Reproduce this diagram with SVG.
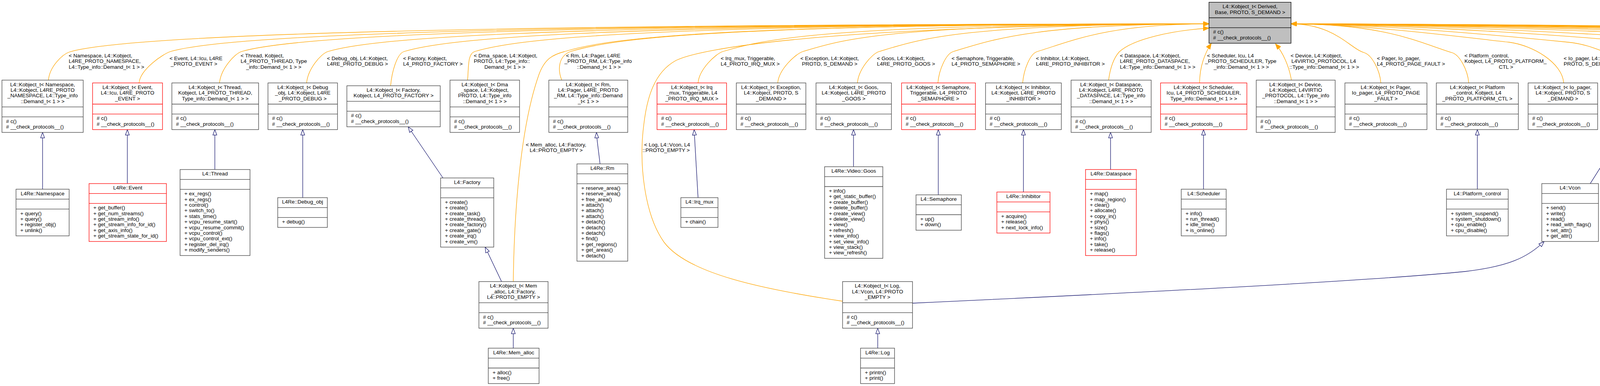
<svg xmlns="http://www.w3.org/2000/svg" width="6815" height="988" viewBox="0 0 6815 988">
<defs>
<style>
text{font-family:"Liberation Sans",Arial,Helvetica,sans-serif;font-size:13.5px;fill:#000}
.c{text-anchor:middle}
.b{fill:#fff;stroke:#404040;stroke-width:1.3}
.r{fill:#fff;stroke:#ff0000;stroke-width:1.3}
.g{fill:#bfbfbf;stroke:#000;stroke-width:1.3}
.o{fill:none;stroke:#ffa500;stroke-width:1.3;marker-end:url(#ao)}
.n{fill:none;stroke:#191970;stroke-width:1.3;marker-end:url(#an)}
</style>
<marker id="ao" viewBox="0 0 15 12" refX="15" refY="6" markerWidth="15" markerHeight="12" markerUnits="userSpaceOnUse" orient="auto"><path d="M0,0L15,6L0,12z" fill="#ffa500" stroke="#ffa500" stroke-width="1"/></marker>
<marker id="an" viewBox="-1 -1 16 12" refX="14" refY="5" markerWidth="16" markerHeight="12" markerUnits="userSpaceOnUse" orient="auto"><path d="M0,0L14,5L0,10z" fill="#fff" stroke="#191970" stroke-width="1.3"/></marker>
</defs>
<rect x="0" y="0" width="6815" height="988" fill="#fff"/>

<g id="connectors">
<g id="template-edges">
<path class="o" d="M124,205.1 C127,170 160,139 178,133 C278,103 761,62 3095,61"/>
<path class="o" d="M356,212.3 C359,177 418,138 436,132 C536,102 968,62 3095,61"/>
<path class="o" d="M562,212.3 C565,177 600,138 618,132 C718,102 1113,62 3095,61"/>
<path class="o" d="M785,212.3 C788,177 821,138 839,132 C939,102 1290,62 3095,61"/>
<path class="o" d="M1000,219.5 C1003,184 1016,138 1034,132 C1134,102 1446,62 3095,61"/>
<path class="o" d="M1197,205.1 C1200,170 1197,138 1215,132 C1315,102 1591,62 3095,61"/>
<path class="o" d="M1438,205.1 C1428,180 1428,145 1460,132 C1560,102 1787,62 3095,61"/>
<path class="o" d="M1787,212.3 C1790,177 1832,138 1850,132 C1950,102 2099,62 3095,61"/>
<path class="o" d="M1991,212.3 C1994,177 2037,138 2055,132 C2155,102 2263,62 3095,61"/>
<path class="o" d="M2195,212.3 C2198,177 2232,138 2250,132 C2350,102 2450,62 3095,61"/>
<path class="o" d="M2401,212.3 C2404,177 2422,138 2440,132 C2540,102 2640,62 3095,61"/>
<path class="o" d="M2618,212.3 C2621,177 2637,138 2655,132 C2743,105.6 2831,62 3095,61"/>
<path class="o" d="M2838,205.1 C2842,175 2850,150 2865,133 C2900,100 3000,78 3095,72"/>
<path class="o" d="M3071,212.3 C3071,170 3085,135 3101,111"/>
<path class="o" d="M3306,205.1 C3300,170 3285,135 3265,112"/>
<path class="o" d="M1314,720.7 C1316,560 1330,330 1380,190 C1395,150 1415,140 1445,132 C1545,102 1775,62 3095,61"/>
<path class="o" d="M2157,771 C1950,740 1760,700 1700,620 C1650,550 1635,420 1648,320 C1656,250 1675,185 1730,155 C1790,125 2100,66 3095,61"/>
<path class="o" d="M3535,212.3 C3532,177 3511,141 3493,135 C3455,124 3418,62 3305,61"/>
<path class="o" d="M3760,212.3 C3757,177 3736,141 3718,135 C3635,110 3553,62 3305,61"/>
<path class="o" d="M4003,212.3 C4000,162.3 3926,116 3863,108 C3793,101 3500,62 3305,61"/>
<path class="o" d="M4199,219.5 C4196,169.5 4097,116 4014,108 C3921.5,98.75 3553,62 3305,61"/>
<path class="o" d="M4407,219.5 C4404,169.5 4292,116 4198,108 C4093.5,97.5 3618,62 3305,61"/>
<path class="o" d="M4612,212.3 C4609,162.3 4485.5,116 4382,108 C4267,96.5 3682,62 3305,61"/>
<path class="o" d="M4838,219.5 C4835,169.5 4722.5,116 4628,108 C4523,97.5 3768,62 3305,61"/>
<path class="o" d="M5067,219.5 C5064,169.5 4957,116 4867,108 C4767,98 3852,62 3305,61"/>
<path class="o" d="M5298,219.5 C5295,169.5 5188,116 5098,108 C4998,98 3933,62 3305,61"/>
<path class="o" d="M5533,212.3 C5530,162.3 5428.5,116 5343,108 C5248,98.5 4018,62 3305,61"/>
<path class="o" d="M5749,212.3 C5746,162.3 5644.5,116 5559,108 C5464,98.5 4094,62 3305,61"/>
<path class="o" d="M5980,205.1 C5977,155.1 5875.5,116 5790,108 C5695,98.5 4175,62 3305,61"/>
<path class="o" d="M6228,212.3 C6225,162.3 6129,116 6048,108 C5958,99 4265,62 3305,61"/>
<path class="o" d="M6446,212.3 C6443,162.3 6352.5,116 6276,108 C6191,99.5 4345,62 3305,61"/>
<path class="o" d="M6672,212.3 C6669,162.3 6584,116 6512,108 C6432,100 4427,62 3305,61"/>
</g>
<g id="inheritance-edges">
<path class="n" d="M109,484.3V338.9"/>
<path class="n" d="M326,469.9V331.7"/>
<path class="n" d="M550,433.9V331.7"/>
<path class="n" d="M775,505.9V331.7"/>
<path class="n" d="M1134,455.5L1045,324.5"/>
<path class="n" d="M1536,419.5C1533,390 1528,360 1527,338.9"/>
<path class="n" d="M1787,505.9L1777,331.7"/>
<path class="n" d="M2185,426.7V331.7"/>
<path class="n" d="M2402,498.7V331.7"/>
<path class="n" d="M2620,491.5V331.7"/>
<path class="n" d="M2843,433.9V338.9"/>
<path class="n" d="M3081,484.3V331.7"/>
<path class="n" d="M3782,484.3V331.7"/>
<path class="n" d="M4071,469.9L4163,324.5"/>
<path class="n" d="M1284,720.7L1242,632.5"/>
<path class="n" d="M1314,891.2V840.1"/>
<path class="n" d="M2247,891.2V840.1"/>
<path class="n" d="M2336,776C2900,750 3500,720 3750,695C3860,682 3910,660 3953,618.1"/>
</g>
<g id="edge-labels">
<text><tspan x="176" y="146.7">&lt; Namespace, L4::Kobject,</tspan><tspan x="176" y="161.1">L4RE_PROTO_NAMESPACE,</tspan><tspan x="176" y="175.5">L4::Type_info::Demand_t&lt; 1 &gt; &gt;</tspan></text>
<text><tspan x="434" y="153.7">&lt; Event, L4::Icu, L4RE</tspan><tspan x="437" y="168.1">_PROTO_EVENT &gt;</tspan></text>
<text><tspan x="616" y="146.7">&lt; Thread, Kobject,</tspan><tspan x="616" y="161.1">L4_PROTO_THREAD, Type</tspan><tspan x="630" y="175.5">_info::Demand_t&lt; 1 &gt; &gt;</tspan></text>
<text><tspan x="837" y="153.7">&lt; Debug_obj, L4::Kobject,</tspan><tspan x="837" y="168.1">L4RE_PROTO_DEBUG &gt;</tspan></text>
<text><tspan x="1032" y="153.7">&lt; Factory, Kobject,</tspan><tspan x="1032" y="168.1">L4_PROTO_FACTORY &gt;</tspan></text>
<text><tspan x="1213" y="146.7">&lt; Dma_space, L4::Kobject,</tspan><tspan x="1213" y="161.1">PROTO, L4::Type_info::</tspan><tspan x="1240" y="175.5">Demand_t&lt; 1 &gt; &gt;</tspan></text>
<text><tspan x="1449" y="146.7">&lt; Rm, L4::Pager, L4RE</tspan><tspan x="1445" y="161.1">_PROTO_RM, L4::Type_info</tspan><tspan x="1477" y="175.5">::Demand_t&lt; 1 &gt; &gt;</tspan></text>
<text><tspan x="1346" y="374.7">&lt; Mem_alloc, L4::Factory,</tspan><tspan x="1356" y="389.1">L4::PROTO_EMPTY &gt;</tspan></text>
<text><tspan x="1649" y="374.7">&lt; Log, L4::Vcon, L4</tspan><tspan x="1645" y="389.1">::PROTO_EMPTY &gt;</tspan></text>
<text><tspan x="1845" y="153.7">&lt; Irq_mux, Triggerable,</tspan><tspan x="1845" y="168.1">L4_PROTO_IRQ_MUX &gt;</tspan></text>
<text><tspan x="2049" y="153.7">&lt; Exception, L4::Kobject,</tspan><tspan x="2053" y="168.1">PROTO, S_DEMAND &gt;</tspan></text>
<text><tspan x="2245" y="153.7">&lt; Goos, L4::Kobject,</tspan><tspan x="2245" y="168.1">L4RE_PROTO_GOOS &gt;</tspan></text>
<text><tspan x="2436" y="153.7">&lt; Semaphore, Triggerable,</tspan><tspan x="2436" y="168.1">L4_PROTO_SEMAPHORE &gt;</tspan></text>
<text><tspan x="2652" y="153.7">&lt; Inhibitor, L4::Kobject,</tspan><tspan x="2652" y="168.1">L4RE_PROTO_INHIBITOR &gt;</tspan></text>
<text><tspan x="2867" y="146.7">&lt; Dataspace, L4::Kobject,</tspan><tspan x="2867" y="161.1">L4RE_PROTO_DATASPACE,</tspan><tspan x="2867" y="175.5">L4::Type_info::Demand_t&lt; 1 &gt; &gt;</tspan></text>
<text><tspan x="3090" y="146.7">&lt; Scheduler, Icu, L4</tspan><tspan x="3085" y="161.1">_PROTO_SCHEDULER, Type</tspan><tspan x="3107" y="175.5">_info::Demand_t&lt; 1 &gt; &gt;</tspan></text>
<text><tspan x="3304" y="146.7">&lt; Device, L4::Kobject,</tspan><tspan x="3306" y="161.1">L4VIRTIO_PROTOCOL, L4</tspan><tspan x="3301" y="175.5">::Type_info::Demand_t&lt; 1 &gt; &gt;</tspan></text>
<text><tspan x="3525" y="153.7">&lt; Pager, Io_pager,</tspan><tspan x="3525" y="168.1">L4_PROTO_PAGE_FAULT &gt;</tspan></text>
<text><tspan x="3749" y="146.7">&lt; Platform_control,</tspan><tspan x="3749" y="161.1">Kobject, L4_PROTO_PLATFORM_</tspan><tspan x="3837" y="175.5">CTL &gt;</tspan></text>
<text><tspan x="4003" y="153.7">&lt; Io_pager, L4::Kobject,</tspan><tspan x="4003" y="168.1">PROTO, S_DEMAND &gt;</tspan></text>
<text><tspan x="4192" y="153.7">&lt; Vcon, Icu, L4_PROTO</tspan><tspan x="4240" y="168.1">_LOG &gt;</tspan></text>
<text><tspan x="4392" y="153.7">&lt; Meta, Kobject, L4</tspan><tspan x="4392" y="168.1">_PROTO_META &gt;</tspan></text>
<text><tspan x="4584" y="146.7">&lt; Icu, Irq_eoi, L4</tspan><tspan x="4580" y="161.1">_PROTO_IRQ, Type_info</tspan><tspan x="4602" y="175.5">::Demand_t&lt; 1 &gt; &gt;</tspan></text>
<text><tspan x="4809" y="160.5">&lt; Vm, Task, L4_PROTO_VM &gt;</tspan></text>
<text><tspan x="5053" y="153.7">&lt; Triggerable, Irq</tspan><tspan x="5049" y="168.1">_eoi, L4_PROTO_IRQ &gt;</tspan></text>
<text><tspan x="5269" y="153.7">&lt; Debugger, Kobject,</tspan><tspan x="5269" y="168.1">L4_PROTO_DEBUGGER &gt;</tspan></text>
<text><tspan x="5509" y="153.7">&lt; Derived, L4::Kobject,</tspan><tspan x="5509" y="168.1">PROTO, S_DEMAND &gt;</tspan></text>
<text><tspan x="5726" y="146.7">&lt; Task, Kobject, L4</tspan><tspan x="5721" y="161.1">_PROTO_TASK, Type_info</tspan><tspan x="5750" y="175.5">::Demand_t&lt; 2 &gt; &gt;</tspan></text>
<text><tspan x="5964" y="146.7">&lt; Ipc_gate, Kobject,</tspan><tspan x="5964" y="161.1">L4_PROTO_KOBJECT, Type</tspan><tspan x="5980" y="175.5">_info::Demand_t&lt; 1 &gt; &gt;</tspan></text>
<text><tspan x="6209" y="153.7">&lt; Parent, L4::Kobject,</tspan><tspan x="6209" y="168.1">L4RE_PROTO_PARENT &gt;</tspan></text>
<text><tspan x="6431" y="153.7">&lt; Irq, Triggerable,</tspan><tspan x="6431" y="168.1">L4_PROTO_IRQ_SENDER &gt;</tspan></text>
<text><tspan x="6663" y="153.7">&lt; Irq_eoi, L4::Kobject,</tspan><tspan x="6663" y="168.1">PROTO, S_DEMAND &gt;</tspan></text>
</g>
</g>

<g id="kobject_t_base"><rect class="g" x="3095" y="5.7" width="210" height="105"/><path class="g" d="M3095,45.5h210M3095,70.9h210"/><text class="c"><tspan x="3200" y="21.2">L4::Kobject_t&lt; Derived,</tspan><tspan x="3200" y="35.6">Base, PROTO, S_DEMAND &gt;</tspan></text><text><tspan x="3105.5" y="86.4"># c()</tspan><tspan x="3105.5" y="100.8"># __check_protocols__()</tspan></text></g>

<g id="kt_namespace"><rect class="b" x="5" y="205.1" width="208" height="133.8"/><path class="b" d="M5,273.7h208M5,299.1h208"/><text class="c"><tspan x="109" y="220.6">L4::Kobject_t&lt; Namespace,</tspan><tspan x="109" y="235">L4::Kobject, L4RE_PROTO</tspan><tspan x="109" y="249.4">_NAMESPACE, L4::Type_info</tspan><tspan x="109" y="263.8">::Demand_t&lt; 1 &gt; &gt;</tspan></text><text><tspan x="15.5" y="314.6"># c()</tspan><tspan x="15.5" y="329"># __check_protocols__()</tspan></text></g>
<g id="kt_event"><rect class="r" x="237" y="212.3" width="179" height="119.4"/><path class="r" d="M237,266.5h179M237,291.9h179"/><text class="c"><tspan x="326.5" y="227.8">L4::Kobject_t&lt; Event,</tspan><tspan x="326.5" y="242.2">L4::Icu, L4RE_PROTO</tspan><tspan x="326.5" y="256.6">_EVENT &gt;</tspan></text><text><tspan x="247.5" y="307.4"># c()</tspan><tspan x="247.5" y="321.8"># __check_protocols__()</tspan></text></g>
<g id="kt_thread"><rect class="b" x="440" y="212.3" width="222" height="119.4"/><path class="b" d="M440,266.5h222M440,291.9h222"/><text class="c"><tspan x="551" y="227.8">L4::Kobject_t&lt; Thread,</tspan><tspan x="551" y="242.2">Kobject, L4_PROTO_THREAD,</tspan><tspan x="551" y="256.6">Type_info::Demand_t&lt; 1 &gt; &gt;</tspan></text><text><tspan x="450.5" y="307.4"># c()</tspan><tspan x="450.5" y="321.8"># __check_protocols__()</tspan></text></g>
<g id="kt_debug_obj"><rect class="b" x="686" y="212.3" width="178" height="119.4"/><path class="b" d="M686,266.5h178M686,291.9h178"/><text class="c"><tspan x="775" y="227.8">L4::Kobject_t&lt; Debug</tspan><tspan x="775" y="242.2">_obj, L4::Kobject, L4RE</tspan><tspan x="775" y="256.6">_PROTO_DEBUG &gt;</tspan></text><text><tspan x="696.5" y="307.4"># c()</tspan><tspan x="696.5" y="321.8"># __check_protocols__()</tspan></text></g>
<g id="kt_factory"><rect class="b" x="888" y="219.5" width="239" height="105"/><path class="b" d="M888,259.3h239M888,284.7h239"/><text class="c"><tspan x="1007.5" y="235">L4::Kobject_t&lt; Factory,</tspan><tspan x="1007.5" y="249.4">Kobject, L4_PROTO_FACTORY &gt;</tspan></text><text><tspan x="898.5" y="300.2"># c()</tspan><tspan x="898.5" y="314.6"># __check_protocols__()</tspan></text></g>
<g id="kt_dma_space"><rect class="b" x="1152" y="205.1" width="178" height="133.8"/><path class="b" d="M1152,273.7h178M1152,299.1h178"/><text class="c"><tspan x="1241" y="220.6">L4::Kobject_t&lt; Dma</tspan><tspan x="1241" y="235">_space, L4::Kobject,</tspan><tspan x="1241" y="249.4">PROTO, L4::Type_info</tspan><tspan x="1241" y="263.8">::Demand_t&lt; 1 &gt; &gt;</tspan></text><text><tspan x="1162.5" y="314.6"># c()</tspan><tspan x="1162.5" y="329"># __check_protocols__()</tspan></text></g>
<g id="kt_rm"><rect class="b" x="1405" y="205.1" width="202" height="133.8"/><path class="b" d="M1405,273.7h202M1405,299.1h202"/><text class="c"><tspan x="1506" y="220.6">L4::Kobject_t&lt; Rm,</tspan><tspan x="1506" y="235">L4::Pager, L4RE_PROTO</tspan><tspan x="1506" y="249.4">_RM, L4::Type_info::Demand</tspan><tspan x="1506" y="263.8">_t&lt; 1 &gt; &gt;</tspan></text><text><tspan x="1415.5" y="314.6"># c()</tspan><tspan x="1415.5" y="329"># __check_protocols__()</tspan></text></g>
<g id="kt_irq_mux"><rect class="r" x="1682" y="212.3" width="178" height="119.4"/><path class="r" d="M1682,266.5h178M1682,291.9h178"/><text class="c"><tspan x="1771" y="227.8">L4::Kobject_t&lt; Irq</tspan><tspan x="1771" y="242.2">_mux, Triggerable, L4</tspan><tspan x="1771" y="256.6">_PROTO_IRQ_MUX &gt;</tspan></text><text><tspan x="1692.5" y="307.4"># c()</tspan><tspan x="1692.5" y="321.8"># __check_protocols__()</tspan></text></g>
<g id="kt_exception"><rect class="b" x="1885" y="212.3" width="178" height="119.4"/><path class="b" d="M1885,266.5h178M1885,291.9h178"/><text class="c"><tspan x="1974" y="227.8">L4::Kobject_t&lt; Exception,</tspan><tspan x="1974" y="242.2">L4::Kobject, PROTO, S</tspan><tspan x="1974" y="256.6">_DEMAND &gt;</tspan></text><text><tspan x="1895.5" y="307.4"># c()</tspan><tspan x="1895.5" y="321.8"># __check_protocols__()</tspan></text></g>
<g id="kt_goos"><rect class="b" x="2089" y="212.3" width="193" height="119.4"/><path class="b" d="M2089,266.5h193M2089,291.9h193"/><text class="c"><tspan x="2185.5" y="227.8">L4::Kobject_t&lt; Goos,</tspan><tspan x="2185.5" y="242.2">L4::Kobject, L4RE_PROTO</tspan><tspan x="2185.5" y="256.6">_GOOS &gt;</tspan></text><text><tspan x="2099.5" y="307.4"># c()</tspan><tspan x="2099.5" y="321.8"># __check_protocols__()</tspan></text></g>
<g id="kt_semaphore"><rect class="r" x="2308" y="212.3" width="189" height="119.4"/><path class="r" d="M2308,266.5h189M2308,291.9h189"/><text class="c"><tspan x="2402.5" y="227.8">L4::Kobject_t&lt; Semaphore,</tspan><tspan x="2402.5" y="242.2">Triggerable, L4_PROTO</tspan><tspan x="2402.5" y="256.6">_SEMAPHORE &gt;</tspan></text><text><tspan x="2318.5" y="307.4"># c()</tspan><tspan x="2318.5" y="321.8"># __check_protocols__()</tspan></text></g>
<g id="kt_inhibitor"><rect class="b" x="2523" y="212.3" width="194" height="119.4"/><path class="b" d="M2523,266.5h194M2523,291.9h194"/><text class="c"><tspan x="2620" y="227.8">L4::Kobject_t&lt; Inhibitor,</tspan><tspan x="2620" y="242.2">L4::Kobject, L4RE_PROTO</tspan><tspan x="2620" y="256.6">_INHIBITOR &gt;</tspan></text><text><tspan x="2533.5" y="307.4"># c()</tspan><tspan x="2533.5" y="321.8"># __check_protocols__()</tspan></text></g>
<g id="kt_dataspace"><rect class="b" x="2742" y="205.1" width="205" height="133.8"/><path class="b" d="M2742,273.7h205M2742,299.1h205"/><text class="c"><tspan x="2844.5" y="220.6">L4::Kobject_t&lt; Dataspace,</tspan><tspan x="2844.5" y="235">L4::Kobject, L4RE_PROTO</tspan><tspan x="2844.5" y="249.4">_DATASPACE, L4::Type_info</tspan><tspan x="2844.5" y="263.8">::Demand_t&lt; 1 &gt; &gt;</tspan></text><text><tspan x="2752.5" y="314.6"># c()</tspan><tspan x="2752.5" y="329"># __check_protocols__()</tspan></text></g>
<g id="kt_scheduler"><rect class="r" x="2971" y="212.3" width="221" height="119.4"/><path class="r" d="M2971,266.5h221M2971,291.9h221"/><text class="c"><tspan x="3081.5" y="227.8">L4::Kobject_t&lt; Scheduler,</tspan><tspan x="3081.5" y="242.2">Icu, L4_PROTO_SCHEDULER,</tspan><tspan x="3081.5" y="256.6">Type_info::Demand_t&lt; 1 &gt; &gt;</tspan></text><text><tspan x="2981.5" y="307.4"># c()</tspan><tspan x="2981.5" y="321.8"># __check_protocols__()</tspan></text></g>
<g id="kt_device"><rect class="b" x="3216" y="205.1" width="202" height="133.8"/><path class="b" d="M3216,273.7h202M3216,299.1h202"/><text class="c"><tspan x="3317" y="220.6">L4::Kobject_t&lt; Device,</tspan><tspan x="3317" y="235">L4::Kobject, L4VIRTIO</tspan><tspan x="3317" y="249.4">_PROTOCOL, L4::Type_info</tspan><tspan x="3317" y="263.8">::Demand_t&lt; 1 &gt; &gt;</tspan></text><text><tspan x="3226.5" y="314.6"># c()</tspan><tspan x="3226.5" y="329"># __check_protocols__()</tspan></text></g>
<g id="kt_pager"><rect class="b" x="3443" y="212.3" width="210" height="119.4"/><path class="b" d="M3443,266.5h210M3443,291.9h210"/><text class="c"><tspan x="3548" y="227.8">L4::Kobject_t&lt; Pager,</tspan><tspan x="3548" y="242.2">Io_pager, L4_PROTO_PAGE</tspan><tspan x="3548" y="256.6">_FAULT &gt;</tspan></text><text><tspan x="3453.5" y="307.4"># c()</tspan><tspan x="3453.5" y="321.8"># __check_protocols__()</tspan></text></g>
<g id="kt_platform_control"><rect class="b" x="3677" y="212.3" width="210" height="119.4"/><path class="b" d="M3677,266.5h210M3677,291.9h210"/><text class="c"><tspan x="3782" y="227.8">L4::Kobject_t&lt; Platform</tspan><tspan x="3782" y="242.2">_control, Kobject, L4</tspan><tspan x="3782" y="256.6">_PROTO_PLATFORM_CTL &gt;</tspan></text><text><tspan x="3687.5" y="307.4"># c()</tspan><tspan x="3687.5" y="321.8"># __check_protocols__()</tspan></text></g>
<g id="kt_io_pager"><rect class="b" x="3912" y="212.3" width="178" height="119.4"/><path class="b" d="M3912,266.5h178M3912,291.9h178"/><text class="c"><tspan x="4001" y="227.8">L4::Kobject_t&lt; Io_pager,</tspan><tspan x="4001" y="242.2">L4::Kobject, PROTO, S</tspan><tspan x="4001" y="256.6">_DEMAND &gt;</tspan></text><text><tspan x="3922.5" y="307.4"># c()</tspan><tspan x="3922.5" y="321.8"># __check_protocols__()</tspan></text></g>
<g id="kt_vcon"><rect class="r" x="4115" y="219.5" width="177" height="105"/><path class="r" d="M4115,259.3h177M4115,284.7h177"/><text class="c"><tspan x="4203.5" y="235">L4::Kobject_t&lt; Vcon,</tspan><tspan x="4203.5" y="249.4">Icu, L4_PROTO_LOG &gt;</tspan></text><text><tspan x="4125.5" y="300.2"># c()</tspan><tspan x="4125.5" y="314.6"># __check_protocols__()</tspan></text></g>
<g id="kt_meta"><rect class="b" x="4319" y="219.5" width="210" height="105"/><path class="b" d="M4319,259.3h210M4319,284.7h210"/><text class="c"><tspan x="4424" y="235">L4::Kobject_t&lt; Meta,</tspan><tspan x="4424" y="249.4">Kobject, L4_PROTO_META &gt;</tspan></text><text><tspan x="4329.5" y="300.2"># c()</tspan><tspan x="4329.5" y="314.6"># __check_protocols__()</tspan></text></g>
<g id="kt_icu"><rect class="r" x="4554" y="212.3" width="204" height="119.4"/><path class="r" d="M4554,266.5h204M4554,291.9h204"/><text class="c"><tspan x="4656" y="227.8">L4::Kobject_t&lt; Icu,</tspan><tspan x="4656" y="242.2">Irq_eoi, L4_PROTO_IRQ,</tspan><tspan x="4656" y="256.6">Type_info::Demand_t&lt; 1 &gt; &gt;</tspan></text><text><tspan x="4564.5" y="307.4"># c()</tspan><tspan x="4564.5" y="321.8"># __check_protocols__()</tspan></text></g>
<g id="kt_vm"><rect class="r" x="4782" y="219.5" width="179" height="105"/><path class="r" d="M4782,259.3h179M4782,284.7h179"/><text class="c"><tspan x="4871.5" y="235">L4::Kobject_t&lt; Vm,</tspan><tspan x="4871.5" y="249.4">Task, L4_PROTO_VM &gt;</tspan></text><text><tspan x="4792.5" y="300.2"># c()</tspan><tspan x="4792.5" y="314.6"># __check_protocols__()</tspan></text></g>
<g id="kt_triggerable"><rect class="r" x="4986" y="219.5" width="196" height="105"/><path class="r" d="M4986,259.3h196M4986,284.7h196"/><text class="c"><tspan x="5084" y="235">L4::Kobject_t&lt; Triggerable,</tspan><tspan x="5084" y="249.4">Irq_eoi, L4_PROTO_IRQ &gt;</tspan></text><text><tspan x="4996.5" y="300.2"># c()</tspan><tspan x="4996.5" y="314.6"># __check_protocols__()</tspan></text></g>
<g id="kt_debugger"><rect class="r" x="5206" y="219.5" width="253" height="105"/><path class="r" d="M5206,259.3h253M5206,284.7h253"/><text class="c"><tspan x="5332.5" y="235">L4::Kobject_t&lt; Debugger,</tspan><tspan x="5332.5" y="249.4">Kobject, L4_PROTO_DEBUGGER &gt;</tspan></text><text><tspan x="5216.5" y="300.2"># c()</tspan><tspan x="5216.5" y="314.6"># __check_protocols__()</tspan></text></g>
<g id="kt_derived"><rect class="b" x="5483" y="212.3" width="178" height="119.4"/><path class="b" d="M5483,266.5h178M5483,291.9h178"/><text class="c"><tspan x="5572" y="227.8">L4::Kobject_t&lt; Derived,</tspan><tspan x="5572" y="242.2">L4::Kobject, PROTO, S</tspan><tspan x="5572" y="256.6">_DEMAND &gt;</tspan></text><text><tspan x="5493.5" y="307.4"># c()</tspan><tspan x="5493.5" y="321.8"># __check_protocols__()</tspan></text></g>
<g id="kt_task"><rect class="r" x="5686" y="212.3" width="204" height="119.4"/><path class="r" d="M5686,266.5h204M5686,291.9h204"/><text class="c"><tspan x="5788" y="227.8">L4::Kobject_t&lt; Task,</tspan><tspan x="5788" y="242.2">Kobject, L4_PROTO_TASK,</tspan><tspan x="5788" y="256.6">Type_info::Demand_t&lt; 2 &gt; &gt;</tspan></text><text><tspan x="5696.5" y="307.4"># c()</tspan><tspan x="5696.5" y="321.8"># __check_protocols__()</tspan></text></g>
<g id="kt_ipc_gate"><rect class="r" x="5914" y="205.1" width="223" height="133.8"/><path class="r" d="M5914,273.7h223M5914,299.1h223"/><text class="c"><tspan x="6025.5" y="220.6">L4::Kobject_t&lt; Ipc</tspan><tspan x="6025.5" y="235">_gate, Kobject, L4_PROTO</tspan><tspan x="6025.5" y="249.4">_KOBJECT, Type_info::Demand</tspan><tspan x="6025.5" y="263.8">_t&lt; 1 &gt; &gt;</tspan></text><text><tspan x="5924.5" y="314.6"># c()</tspan><tspan x="5924.5" y="329"># __check_protocols__()</tspan></text></g>
<g id="kt_parent"><rect class="r" x="6161" y="212.3" width="195" height="119.4"/><path class="r" d="M6161,266.5h195M6161,291.9h195"/><text class="c"><tspan x="6258.5" y="227.8">L4::Kobject_t&lt; Parent,</tspan><tspan x="6258.5" y="242.2">L4::Kobject, L4RE_PROTO</tspan><tspan x="6258.5" y="256.6">_PARENT &gt;</tspan></text><text><tspan x="6171.5" y="307.4"># c()</tspan><tspan x="6171.5" y="321.8"># __check_protocols__()</tspan></text></g>
<g id="kt_irq"><rect class="r" x="6380" y="212.3" width="179" height="119.4"/><path class="r" d="M6380,266.5h179M6380,291.9h179"/><text class="c"><tspan x="6469.5" y="227.8">L4::Kobject_t&lt; Irq,</tspan><tspan x="6469.5" y="242.2">Triggerable, L4_PROTO</tspan><tspan x="6469.5" y="256.6">_IRQ_SENDER &gt;</tspan></text><text><tspan x="6390.5" y="307.4"># c()</tspan><tspan x="6390.5" y="321.8"># __check_protocols__()</tspan></text></g>
<g id="kt_irq_eoi"><rect class="b" x="6594" y="212.3" width="183" height="119.4"/><path class="b" d="M6594,266.5h183M6594,291.9h183"/><text class="c"><tspan x="6685.5" y="227.8">L4::Kobject_t&lt; Irq</tspan><tspan x="6685.5" y="242.2">_eoi, L4::Kobject, PROTO,</tspan><tspan x="6685.5" y="256.6">S_DEMAND &gt;</tspan></text><text><tspan x="6604.5" y="307.4"># c()</tspan><tspan x="6604.5" y="321.8"># __check_protocols__()</tspan></text></g>

<g id="l4re_namespace"><rect class="b" x="41" y="484.3" width="136" height="119.4"/><path class="b" d="M41,509.7h136M41,535.1h136"/><text class="c" x="109" y="499.8">L4Re::Namespace</text><text><tspan x="52" y="550.6">+ query()</tspan><tspan x="52" y="565">+ query()</tspan><tspan x="52" y="579.4">+ register_obj()</tspan><tspan x="52" y="593.8">+ unlink()</tspan></text></g>
<g id="l4re_event"><rect class="r" x="228" y="469.9" width="198" height="148.2"/><path class="r" d="M228,495.3h198M228,520.7h198"/><text class="c" x="327" y="485.4">L4Re::Event</text><text><tspan x="239" y="536.2">+ get_buffer()</tspan><tspan x="239" y="550.6">+ get_num_streams()</tspan><tspan x="239" y="565">+ get_stream_info()</tspan><tspan x="239" y="579.4">+ get_stream_info_for_id()</tspan><tspan x="239" y="593.8">+ get_axis_info()</tspan><tspan x="239" y="608.2">+ get_stream_state_for_id()</tspan></text></g>
<g id="l4_thread"><rect class="b" x="461" y="433.9" width="179" height="220.2"/><path class="b" d="M461,459.3h179M461,484.7h179"/><text class="c" x="550.5" y="449.4">L4::Thread</text><text><tspan x="472" y="500.2">+ ex_regs()</tspan><tspan x="472" y="514.6">+ ex_regs()</tspan><tspan x="472" y="529">+ control()</tspan><tspan x="472" y="543.4">+ switch_to()</tspan><tspan x="472" y="557.8">+ stats_time()</tspan><tspan x="472" y="572.2">+ vcpu_resume_start()</tspan><tspan x="472" y="586.6">+ vcpu_resume_commit()</tspan><tspan x="472" y="601">+ vcpu_control()</tspan><tspan x="472" y="615.4">+ vcpu_control_ext()</tspan><tspan x="472" y="629.8">+ register_del_irq()</tspan><tspan x="472" y="644.2">+ modify_senders()</tspan></text></g>
<g id="l4re_debug_obj"><rect class="b" x="711" y="505.9" width="127" height="76.2"/><path class="b" d="M711,531.3h127M711,556.7h127"/><text class="c" x="774.5" y="521.4">L4Re::Debug_obj</text><text x="722" y="572.2">+ debug()</text></g>
<g id="l4_factory"><rect class="b" x="1128" y="455.5" width="136" height="177"/><path class="b" d="M1128,480.9h136M1128,506.3h136"/><text class="c" x="1196" y="471">L4::Factory</text><text><tspan x="1139" y="521.8">+ create()</tspan><tspan x="1139" y="536.2">+ create()</tspan><tspan x="1139" y="550.6">+ create_task()</tspan><tspan x="1139" y="565">+ create_thread()</tspan><tspan x="1139" y="579.4">+ create_factory()</tspan><tspan x="1139" y="593.8">+ create_gate()</tspan><tspan x="1139" y="608.2">+ create_irq()</tspan><tspan x="1139" y="622.6">+ create_vm()</tspan></text></g>
<g id="l4re_rm"><rect class="b" x="1477" y="419.5" width="130" height="249"/><path class="b" d="M1477,444.9h130M1477,470.3h130"/><text class="c" x="1542" y="435">L4Re::Rm</text><text><tspan x="1488" y="485.8">+ reserve_area()</tspan><tspan x="1488" y="500.2">+ reserve_area()</tspan><tspan x="1488" y="514.6">+ free_area()</tspan><tspan x="1488" y="529">+ attach()</tspan><tspan x="1488" y="543.4">+ attach()</tspan><tspan x="1488" y="557.8">+ attach()</tspan><tspan x="1488" y="572.2">+ detach()</tspan><tspan x="1488" y="586.6">+ detach()</tspan><tspan x="1488" y="601">+ detach()</tspan><tspan x="1488" y="615.4">+ find()</tspan><tspan x="1488" y="629.8">+ get_regions()</tspan><tspan x="1488" y="644.2">+ get_areas()</tspan><tspan x="1488" y="658.6">+ detach()</tspan></text></g>
<g id="l4_irq_mux"><rect class="b" x="1743" y="505.9" width="95" height="76.2"/><path class="b" d="M1743,531.3h95M1743,556.7h95"/><text class="c" x="1790.5" y="521.4">L4::Irq_mux</text><text x="1754" y="572.2">+ chain()</text></g>
<g id="l4re_video_goos"><rect class="b" x="2111" y="426.7" width="149" height="234.6"/><path class="b" d="M2111,452.1h149M2111,477.5h149"/><text class="c" x="2185.5" y="442.2">L4Re::Video::Goos</text><text><tspan x="2122" y="493">+ info()</tspan><tspan x="2122" y="507.4">+ get_static_buffer()</tspan><tspan x="2122" y="521.8">+ create_buffer()</tspan><tspan x="2122" y="536.2">+ delete_buffer()</tspan><tspan x="2122" y="550.6">+ create_view()</tspan><tspan x="2122" y="565">+ delete_view()</tspan><tspan x="2122" y="579.4">+ view()</tspan><tspan x="2122" y="593.8">+ refresh()</tspan><tspan x="2122" y="608.2">+ view_info()</tspan><tspan x="2122" y="622.6">+ set_view_info()</tspan><tspan x="2122" y="637">+ view_stack()</tspan><tspan x="2122" y="651.4">+ view_refresh()</tspan></text></g>
<g id="l4_semaphore"><rect class="b" x="2345" y="498.7" width="116" height="90.6"/><path class="b" d="M2345,524.1h116M2345,549.5h116"/><text class="c" x="2403" y="514.2">L4::Semaphore</text><text><tspan x="2356" y="565">+ up()</tspan><tspan x="2356" y="579.4">+ down()</tspan></text></g>
<g id="l4re_inhibitor"><rect class="r" x="2552" y="491.5" width="136" height="105"/><path class="r" d="M2552,516.9h136M2552,542.3h136"/><text class="c" x="2620" y="507">L4Re::Inhibitor</text><text><tspan x="2563" y="557.8">+ acquire()</tspan><tspan x="2563" y="572.2">+ release()</tspan><tspan x="2563" y="586.6">+ next_lock_info()</tspan></text></g>
<g id="l4re_dataspace"><rect class="r" x="2779" y="433.9" width="130" height="220.2"/><path class="r" d="M2779,459.3h130M2779,484.7h130"/><text class="c" x="2844" y="449.4">L4Re::Dataspace</text><text><tspan x="2790" y="500.2">+ map()</tspan><tspan x="2790" y="514.6">+ map_region()</tspan><tspan x="2790" y="529">+ clear()</tspan><tspan x="2790" y="543.4">+ allocate()</tspan><tspan x="2790" y="557.8">+ copy_in()</tspan><tspan x="2790" y="572.2">+ phys()</tspan><tspan x="2790" y="586.6">+ size()</tspan><tspan x="2790" y="601">+ flags()</tspan><tspan x="2790" y="615.4">+ info()</tspan><tspan x="2790" y="629.8">+ take()</tspan><tspan x="2790" y="644.2">+ release()</tspan></text></g>
<g id="l4_scheduler"><rect class="b" x="3024" y="484.3" width="115" height="119.4"/><path class="b" d="M3024,509.7h115M3024,535.1h115"/><text class="c" x="3081.5" y="499.8">L4::Scheduler</text><text><tspan x="3035" y="550.6">+ info()</tspan><tspan x="3035" y="565">+ run_thread()</tspan><tspan x="3035" y="579.4">+ idle_time()</tspan><tspan x="3035" y="593.8">+ is_online()</tspan></text></g>
<g id="l4_platform_control"><rect class="b" x="3703" y="484.3" width="158" height="119.4"/><path class="b" d="M3703,509.7h158M3703,535.1h158"/><text class="c" x="3782" y="499.8">L4::Platform_control</text><text><tspan x="3714" y="550.6">+ system_suspend()</tspan><tspan x="3714" y="565">+ system_shutdown()</tspan><tspan x="3714" y="579.4">+ cpu_enable()</tspan><tspan x="3714" y="593.8">+ cpu_disable()</tspan></text></g>
<g id="l4_vcon"><rect class="b" x="3947" y="469.9" width="145" height="148.2"/><path class="b" d="M3947,495.3h145M3947,520.7h145"/><text class="c" x="4019.5" y="485.4">L4::Vcon</text><text><tspan x="3958" y="536.2">+ send()</tspan><tspan x="3958" y="550.6">+ write()</tspan><tspan x="3958" y="565">+ read()</tspan><tspan x="3958" y="579.4">+ read_with_flags()</tspan><tspan x="3958" y="593.8">+ set_attr()</tspan><tspan x="3958" y="608.2">+ get_attr()</tspan></text></g>

<g id="kt_mem_alloc"><rect class="b" x="1226" y="720.7" width="177" height="119.4"/><path class="b" d="M1226,774.9h177M1226,800.3h177"/><text class="c"><tspan x="1314.5" y="736.2">L4::Kobject_t&lt; Mem</tspan><tspan x="1314.5" y="750.6">_alloc, L4::Factory,</tspan><tspan x="1314.5" y="765">L4::PROTO_EMPTY &gt;</tspan></text><text><tspan x="1236.5" y="815.8"># c()</tspan><tspan x="1236.5" y="830.2"># __check_protocols__()</tspan></text></g>
<g id="kt_log"><rect class="b" x="2157" y="720.7" width="179" height="119.4"/><path class="b" d="M2157,774.9h179M2157,800.3h179"/><text class="c"><tspan x="2246.5" y="736.2">L4::Kobject_t&lt; Log,</tspan><tspan x="2246.5" y="750.6">L4::Vcon, L4::PROTO</tspan><tspan x="2246.5" y="765">_EMPTY &gt;</tspan></text><text><tspan x="2167.5" y="815.8"># c()</tspan><tspan x="2167.5" y="830.2"># __check_protocols__()</tspan></text></g>
<g id="l4re_mem_alloc"><rect class="b" x="1250" y="891.2" width="130" height="90.6"/><path class="b" d="M1250,916.6h130M1250,942h130"/><text class="c" x="1315" y="906.7">L4Re::Mem_alloc</text><text><tspan x="1261" y="957.5">+ alloc()</tspan><tspan x="1261" y="971.9">+ free()</tspan></text></g>
<g id="l4re_log"><rect class="b" x="2203" y="891.2" width="87" height="90.6"/><path class="b" d="M2203,916.6h87M2203,942h87"/><text class="c" x="2246.5" y="906.7">L4Re::Log</text><text><tspan x="2214" y="957.5">+ printn()</tspan><tspan x="2214" y="971.9">+ print()</tspan></text></g>
</svg>
